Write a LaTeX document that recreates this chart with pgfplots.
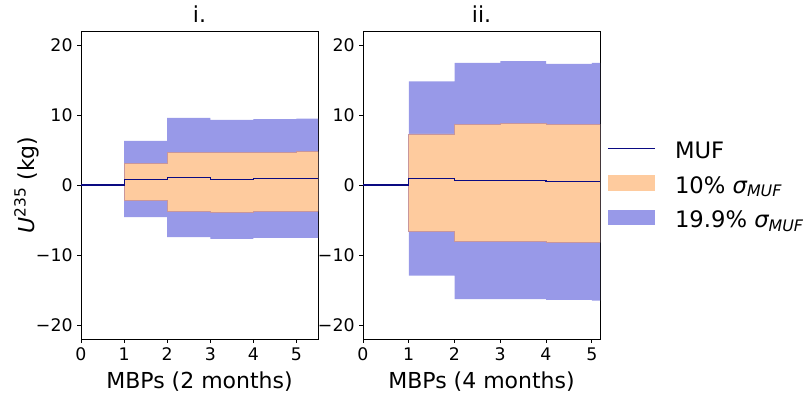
\documentclass[border=0pt]{standalone}
\usepackage{fontspec}
\setmainfont{DejaVu Sans}
\usepackage{pgfplots}
\pgfplotsset{compat=1.18}
\usepgfplotslibrary{fillbetween}
\definecolor{bandorange}{RGB}{254,203,158}
\definecolor{bandblue}{RGB}{152,153,232}
\definecolor{orangeedge}{RGB}{200,150,155}
\definecolor{mufline}{RGB}{10,10,130}
\pgfplotsset{
  legline/.style={legend image code/.code={\draw[mufline, line width=0.8pt] (0pt,4pt) -- (35pt,4pt);}},
  legorange/.style={legend image code/.code={\fill[bandorange] (0pt,-1.3pt) rectangle (35pt,9.3pt);}},
  legblue/.style={legend image code/.code={\fill[bandblue] (0pt,-1.3pt) rectangle (35pt,9.3pt);}},
  panel/.style={
    scale only axis, width=177.75pt, height=231pt,
    ymin=-22, ymax=22, xmin=0,
    xtick={0,1,2,3,4,5}, xticklabels={0,1,2,3,4,5},
    ytick={-20,-10,0,10,20}, yticklabels={−20,−10,0,10,20},
    tick align=outside, tick pos=left, major tick length=2.8pt,
    every tick/.style={black, line width=0.6pt},
    axis line style={black, line width=0.6pt},
    ticklabel style={font=\fontsize{13}{15}\selectfont},
    xlabel style={font=\fontsize{16.5}{19}\selectfont, at={(axis description cs:0.5,0)}, anchor=base, yshift=-36.75pt, inner sep=0pt},
    title style={font=\fontsize{16.5}{19}\selectfont, at={(axis description cs:0.5,1)}, anchor=base, yshift=0.3pt, inner sep=0pt},
    clip=true,
  },
}
\begin{document}
\begin{tikzpicture}
% ---------------- panel i
\begin{axis}[panel, at={(0pt,0pt)}, anchor=south west, xmax=5.5,
  title={i.}, xlabel={MBPs (2 months)},
  ylabel={{\itshape U}\textsuperscript{235} (kg)},
  ylabel style={font=\fontsize{16.5}{19}\selectfont, at={(axis description cs:-0.198,0.5)}, anchor=base, inner sep=0pt}]
\addplot[name path=bu1, const plot, draw=none, forget plot] coordinates {(1,6.3)(2,9.6)(3,9.3)(4,9.4)(5,9.5)(5.5,9.5)};
\addplot[name path=bl1, const plot, draw=none, forget plot] coordinates {(1,-4.6)(2,-7.45)(3,-7.7)(4,-7.55)(5,-7.55)(5.5,-7.55)};
\addplot[fill=bandblue, draw=none, forget plot] fill between[of=bu1 and bl1];
\addplot[name path=ou1, const plot, draw=none, forget plot] coordinates {(1,3.1)(2,4.7)(3,4.6)(4,4.65)(5,4.75)(5.5,4.75)};
\addplot[name path=ol1, const plot, draw=none, forget plot] coordinates {(1,-2.2)(2,-3.7)(3,-3.85)(4,-3.75)(5,-3.7)(5.5,-3.7)};
\addplot[fill=bandorange, draw=orangeedge, line width=0.5pt, forget plot] fill between[of=ou1 and ol1];
\addplot[const plot, mufline, line width=0.8pt, forget plot] coordinates {(0,0)(1,0.85)(2,1.05)(3,0.75)(4,0.95)(5,0.95)(5.5,0.95)};
\end{axis}
% ---------------- panel ii
\begin{axis}[panel, at={(211.5pt,0pt)}, anchor=south west, xmax=5.18,
  title={ii.}, xlabel={MBPs (4 months)},
  legend style={at={(rel axis cs:1.013,0.646)}, anchor=north west, draw=none, fill=none,
    font=\fontsize{17}{20}\selectfont, row sep=8.3pt, column sep=15pt,
    nodes={inner sep=0pt, text height=12pt, text depth=4pt}},
  legend cell align=left]
\addlegendimage{legline}
\addlegendentry{MUF}
\addlegendimage{legorange}
\addlegendentry{10\% {\itshape σ}\textsubscript{\itshape MUF}}
\addlegendimage{legblue}
\addlegendentry{19.9\% {\itshape σ}\textsubscript{\itshape MUF}}
\addplot[name path=bu2, const plot, draw=none, forget plot] coordinates {(1,14.8)(2,17.45)(3,17.7)(4,17.3)(5,17.45)(5.18,17.45)};
\addplot[name path=bl2, const plot, draw=none, forget plot] coordinates {(1,-12.95)(2,-16.3)(3,-16.3)(4,-16.4)(5,-16.5)(5.18,-16.5)};
\addplot[fill=bandblue, draw=none, forget plot] fill between[of=bu2 and bl2];
\addplot[name path=ou2, const plot, draw=none, forget plot] coordinates {(1,7.3)(2,8.7)(3,8.8)(4,8.6)(5,8.7)(5.18,8.7)};
\addplot[name path=ol2, const plot, draw=none, forget plot] coordinates {(1,-6.55)(2,-8.1)(3,-8.1)(4,-8.2)(5,-8.2)(5.18,-8.2)};
\addplot[fill=bandorange, draw=orangeedge, line width=0.5pt, forget plot] fill between[of=ou2 and ol2];
\addplot[const plot, mufline, line width=0.8pt, forget plot] coordinates {(0,0)(1,0.95)(2,0.6)(3,0.7)(4,0.5)(5,0.5)(5.18,0.5)};
\end{axis}
\pgfresetboundingbox
\path (-60.75pt,-43.5pt) rectangle (544.5pt,254.25pt);
\end{tikzpicture}
\end{document}
